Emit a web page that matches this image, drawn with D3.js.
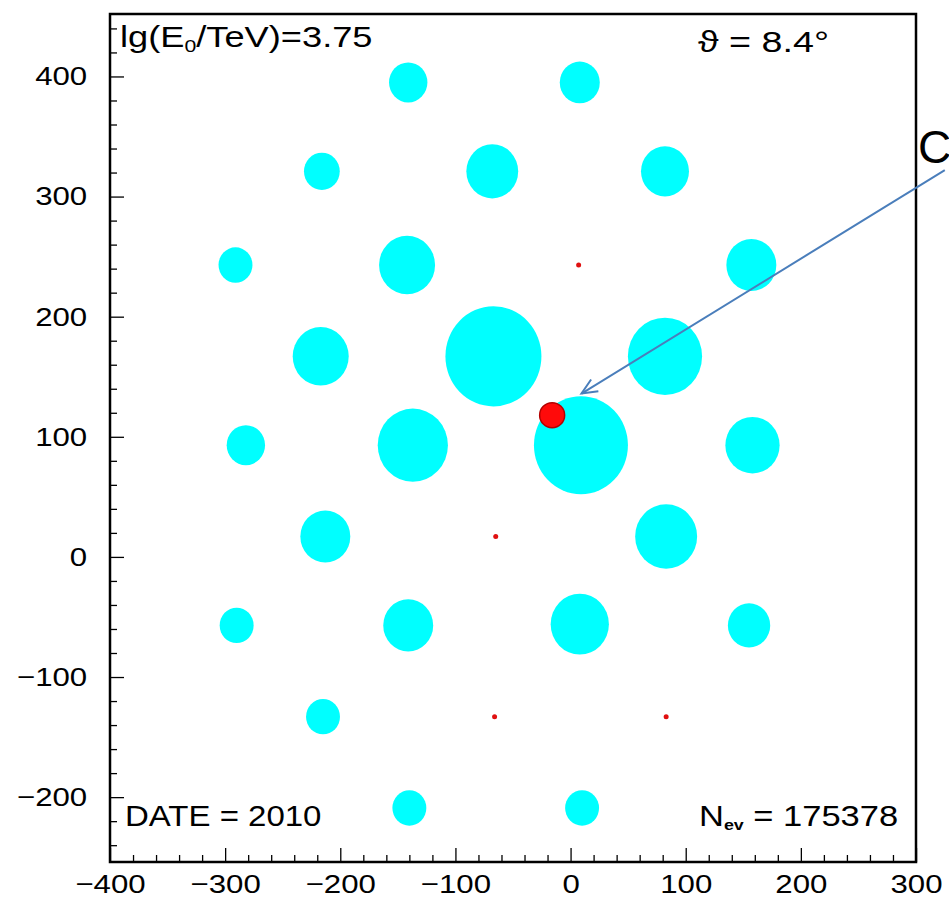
<!DOCTYPE html>
<html>
<head>
<meta charset="utf-8">
<script src="https://cdn.jsdelivr.net/npm/d3@7/dist/d3.min.js"></script>
<style>
  body { margin: 0; background: #fff; }
  text { font-family: "Liberation Sans", Arial, Helvetica, sans-serif; fill: #000; }
</style>
</head>
<body>
<svg id="chart" width="949" height="901"></svg>
<script>
// detector stations (m) with recorded density
const detX = [-141, 8, -216, -68, 82, -291, -142, 157, -217, -67, 82, -282, -137, 9, 158, -213, 83, -290, -141, 8, 155, -215, -140, 10];
const detY = [395, 395, 321, 321, 321, 243, 243, 243, 167, 167, 167, 93, 93, 93, 93, 17, 17, -57, -57, -56, -57, -133, -209, -209];
const density = [23, 25, 20, 42, 36, 18, 49, 39, 49, 144, 86, 23, 77, 138, 46, 39, 60, 18, 39, 53, 28, 18, 18, 18];

// stations without signal
const emptyX = [7, -65, -66, 83];
const emptyY = [243, 17, -133, -133];

// reconstructed shower core
const coreX = [-16];
const coreY = [118];

const xTicks = [-400, -300, -200, -100, 0, 100, 200, 300];
const yTicks = [-200, -100, 0, 100, 200, 300, 400];

const svg = d3.select("#chart");
const frame = {left: 110, right: 916, top: 14, bottom: 862};

const x = d3.scaleLinear().domain([-400, 300]).range([frame.left, frame.right]);
const y = d3.scaleLinear().domain([-254, 452]).range([frame.bottom, frame.top]);
const kx = x(1) - x(0), ky = y(0) - y(1);

// radius in px along x
const r = d3.scaleSqrt().domain([0, 144]).range([0, 48]);

svg.append("rect").attr("width", 949).attr("height", 901).attr("fill", "#fff");

const plot = svg.append("g");

plot.selectAll(".det")
  .data(density)
  .enter().append("ellipse")
  .attr("class", "det")
  .attr("cx", (d, i) => x(detX[i]))
  .attr("cy", (d, i) => y(detY[i]))
  .attr("rx", d => r(d))
  .attr("ry", d => r(d) * ky / kx)
  .attr("fill", "#00ffff");

plot.selectAll(".empty")
  .data(emptyX)
  .enter().append("circle")
  .attr("cx", d => x(d))
  .attr("cy", (d, i) => y(emptyY[i]))
  .attr("r", 2.5)
  .attr("fill", "#e01010");

plot.selectAll(".core")
  .data(coreX)
  .enter().append("circle")
  .attr("cx", d => x(d))
  .attr("cy", (d, i) => y(coreY[i]))
  .attr("r", 12.5)
  .attr("fill", "#ff0a0a")
  .attr("stroke", "#b30000")
  .attr("stroke-width", 1.5);

// axes, ROOT style: ticks inside the frame
const minor = d3.range(-400, 301, 20).filter(v => v % 100 !== 0);
const minorY = d3.range(-240, 452, 20).filter(v => v % 100 !== 0);

const xAxis = svg.append("g")
  .attr("transform", "translate(0," + frame.bottom + ")")
  .call(d3.axisBottom(x).tickValues(xTicks).tickSize(-14).tickPadding(13).tickFormat(d3.format("d")));
svg.append("g")
  .attr("transform", "translate(0," + frame.bottom + ")")
  .call(d3.axisBottom(x).tickValues(minor).tickSize(-7).tickFormat(""));

const yAxis = svg.append("g")
  .attr("transform", "translate(" + frame.left + ",0)")
  .call(d3.axisLeft(y).tickValues(yTicks).tickSize(-14).tickPadding(19).tickFormat(d3.format("d")));
svg.append("g")
  .attr("transform", "translate(" + frame.left + ",0)")
  .call(d3.axisLeft(y).tickValues(minorY).tickSize(-7).tickFormat(""));

svg.selectAll(".domain").remove();
svg.selectAll(".tick line").attr("stroke", "#000").attr("stroke-width", 1.3);
xAxis.selectAll("text").attr("font-size", 26).attr("transform", "scale(1.2,1)");
yAxis.selectAll("text").attr("font-size", 26).attr("transform", "scale(1.2,1)");

svg.append("rect")
  .attr("x", frame.left).attr("y", frame.top)
  .attr("width", frame.right - frame.left).attr("height", frame.bottom - frame.top)
  .attr("fill", "none").attr("stroke", "#000").attr("stroke-width", 2.5);

// labels inside the frame
const t1 = svg.append("text")
  .attr("transform", "translate(120,47) scale(1.25,1)")
  .attr("font-size", 29);
t1.append("tspan").text("lg(E");
t1.append("tspan").attr("font-size", 17).attr("dy", 5).text("0");
t1.append("tspan").attr("dy", -5).text("/TeV)=3.75");

svg.append("text")
  .attr("transform", "translate(698,52) scale(1.3,1)")
  .attr("font-size", 29)
  .text("\u03D1 = 8.4\u00B0");

svg.append("text")
  .attr("transform", "translate(125,826) scale(1.1,1)")
  .attr("font-size", 30)
  .text("DATE = 2010");

const t4 = svg.append("text")
  .attr("transform", "translate(699,826) scale(1.19,1)")
  .attr("font-size", 29);
t4.append("tspan").text("N");
t4.append("tspan").attr("font-size", 15).attr("font-weight", "bold").attr("dy", 4).text("ev");
t4.append("tspan").attr("dy", -4).text(" = 175378");

// annotation outside the frame
svg.append("text")
  .attr("x", 918).attr("y", 163)
  .attr("font-size", 46)
  .text("C");

const arrowFrom = [325, 322], arrowTo = [9.5, 136];
const ax0 = x(arrowFrom[0]), ay0 = y(arrowFrom[1]);
const ax1 = x(arrowTo[0]), ay1 = y(arrowTo[1]);
const ang = Math.atan2(ay1 - ay0, ax1 - ax0);
const head = 17, spread = 0.42;

svg.append("line")
  .attr("x1", ax0).attr("y1", ay0).attr("x2", ax1).attr("y2", ay1)
  .attr("stroke", "#4a7ebb").attr("stroke-width", 2);
svg.append("path")
  .attr("d", d3.line()([
    [ax1 - head * Math.cos(ang - spread), ay1 - head * Math.sin(ang - spread)],
    [ax1, ay1],
    [ax1 - head * Math.cos(ang + spread), ay1 - head * Math.sin(ang + spread)]
  ]))
  .attr("fill", "none").attr("stroke", "#4a7ebb").attr("stroke-width", 2)
  .attr("stroke-linejoin", "miter");
</script>
</body>
</html>
